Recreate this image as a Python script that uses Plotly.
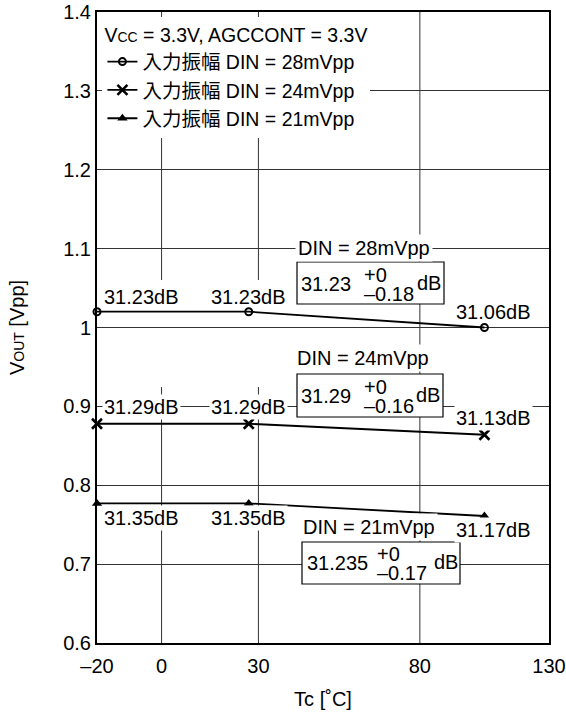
import plotly.graph_objects as go

# data
TEMPS = [-20, 27, 100]
X_TICK_VALS = [-20, 0, 30, 80, 120]
X_TICK_TEXT = ['–20', '0', '30', '80', '130']

VOUT_28 = [1.02, 1.02, 1.0]
VOUT_24 = [0.878, 0.878, 0.864]
VOUT_21 = [0.777, 0.777, 0.761]

GAIN_28 = ['31.23dB', '31.23dB', '31.06dB']
GAIN_24 = ['31.29dB', '31.29dB', '31.13dB']
GAIN_21 = ['31.35dB', '31.35dB', '31.17dB']

SERIES_NAMES = ['入力振幅 DIN = 28mVpp', '入力振幅 DIN = 24mVpp', '入力振幅 DIN = 21mVpp']
DIN_LABELS = ['DIN = 28mVpp', 'DIN = 24mVpp', 'DIN = 21mVpp']
BOX_TYP = ['31.23', '31.29', '31.235']
BOX_MAX = ['+0', '+0', '+0']
BOX_MIN = ['–0.18', '–0.16', '–0.17']

FONT = 'Liberation Sans, Arial, Noto Sans CJK JP, sans-serif'
FS = 20

# plot area in pixels, used to place the hand-drawn notes
PLOT_L, PLOT_R, PLOT_T, PLOT_B = 97, 549, 12, 643
X_RANGE = [-20, 120]
Y_RANGE = [0.6, 1.4]


def px_x(p):
    return X_RANGE[0] + (p - PLOT_L) * (X_RANGE[1] - X_RANGE[0]) / (PLOT_R - PLOT_L)


def px_y(p):
    return Y_RANGE[0] + (PLOT_B - p) * (Y_RANGE[1] - Y_RANGE[0]) / (PLOT_B - PLOT_T)


fig = go.Figure()

styles = [
    dict(symbol='circle-open', size=7, color='black', line=dict(width=2, color='black')),
    dict(symbol='x-thin', size=10, color='black', line=dict(width=2.6, color='black')),
    dict(symbol='triangle-up', size=9, color='black', line=dict(width=0)),
]
for name, ys, mk in zip(SERIES_NAMES, [VOUT_28, VOUT_24, VOUT_21], styles):
    fig.add_trace(go.Scatter(x=TEMPS, y=ys, mode='lines+markers', name=name,
                             line=dict(color='black', width=1.8),
                             marker=mk, cliponaxis=False))

# vertical gridlines (0 and 30 have a gap in the middle in the original)
shapes = []
gap = (px_y(387), px_y(280))
for xv in [0, 30]:
    for y0, y1 in [(Y_RANGE[0], gap[0]), (gap[1], Y_RANGE[1])]:
        shapes.append(dict(type='line', xref='x', yref='y', x0=xv, x1=xv, y0=y0, y1=y1,
                           line=dict(color='#333', width=1), layer='below'))
shapes.append(dict(type='line', xref='x', yref='y', x0=80, x1=80, y0=Y_RANGE[0], y1=Y_RANGE[1],
                   line=dict(color='#333', width=1), layer='below'))

annotations = []

# dB labels next to points
label_shift = [(15, 15, 16), (17, 17, 17), (-15, -15, -14)]
for gains, ys, shifts, white in zip([GAIN_28, GAIN_24, GAIN_21], [VOUT_28, VOUT_24, VOUT_21],
                                    label_shift, [False, True, True]):
    for i, (xv, yv, txt, ysh) in enumerate(zip(TEMPS, ys, gains, shifts)):
        anchor, xsh = [('left', 5), ('center', 0), ('center', 9)][i]
        annotations.append(dict(x=xv, y=yv, text=txt, showarrow=False, xanchor=anchor,
                                yanchor='middle', xshift=xsh, yshift=ysh,
                                bgcolor='white' if white else None, borderpad=1,
                                font=dict(size=FS)))

# DIN = ... labels
din_pos = [(364, 248), (363, 358), (369, 527)]
for txt, (px, py) in zip(DIN_LABELS, din_pos):
    annotations.append(dict(x=px_x(px), y=px_y(py), text=txt, showarrow=False,
                            bgcolor='white', borderpad=2, font=dict(size=FS)))

# boxed tolerance notes: left, right, top, bottom, number right, exp left, dB left, centre y
boxes = [
    (297, 444, 262, 304, 353, 362, 415, 284),
    (297, 443, 374, 417, 353, 362, 414, 396),
    (302, 460, 542, 584, 370, 375, 432, 563),
]
for typ, hi, lo, (l, r, t, b, nr, el, dl, cy) in zip(BOX_TYP, BOX_MAX, BOX_MIN, boxes):
    shapes.append(dict(type='rect', xref='x', yref='y', x0=px_x(l), x1=px_x(r),
                       y0=px_y(b), y1=px_y(t), fillcolor='white',
                       line=dict(color='black', width=1.2), layer='above'))
    annotations.append(dict(x=px_x(nr), y=px_y(cy), text=typ, showarrow=False,
                            xanchor='right', yanchor='middle', font=dict(size=FS)))
    annotations.append(dict(x=px_x(el), y=px_y(cy - 9), text=hi, showarrow=False,
                            xanchor='left', yanchor='middle', font=dict(size=FS)))
    annotations.append(dict(x=px_x(el), y=px_y(cy + 10), text=lo, showarrow=False,
                            xanchor='left', yanchor='middle', font=dict(size=FS)))
    annotations.append(dict(x=px_x(dl), y=px_y(cy - 1), text='dB', showarrow=False,
                            xanchor='left', yanchor='middle', font=dict(size=FS)))

fig.update_layout(
    width=566, height=715,
    margin=dict(l=PLOT_L, r=566 - PLOT_R, t=PLOT_T, b=715 - PLOT_B),
    paper_bgcolor='white', plot_bgcolor='white',
    font=dict(family=FONT, size=FS, color='black'),
    showlegend=True,
    legend=dict(x=0.012, y=0.992, xanchor='left', yanchor='top', bgcolor='white',
                font=dict(size=19.5), itemwidth=30, tracegroupgap=0,
                title=dict(text="V<span style='font-size:14px'>CC</span> = 3.3V, AGCCONT = 3.3V",
                           font=dict(size=19.5))),
    xaxis=dict(range=X_RANGE, tickmode='array', tickvals=X_TICK_VALS, ticktext=X_TICK_TEXT,
               showgrid=False, zeroline=False, showline=True, mirror=True, automargin=False,
               linecolor='black', linewidth=2, ticks='', tickfont=dict(size=FS),
               ticklabelstandoff=4,
               title=dict(text='Tc [˚C]', font=dict(size=FS), standoff=16)),
    yaxis=dict(range=Y_RANGE, dtick=0.1, tick0=0.6, showgrid=True, gridcolor='#333',
               gridwidth=1, zeroline=False, showline=True, mirror=True, automargin=False,
               linecolor='black', linewidth=2, ticks='', tickfont=dict(size=FS),
               title=dict(text="V<span style='font-size:14px'>OUT</span> [Vpp]",
                          font=dict(size=FS), standoff=33)),
    shapes=shapes,
    annotations=annotations,
)

# the page body has a default 8px margin; drop it so the figure sits at the corner
fig.write_html('out.html', config={'displayModeBar': False},
               post_script="document.body.style.margin='0';")
